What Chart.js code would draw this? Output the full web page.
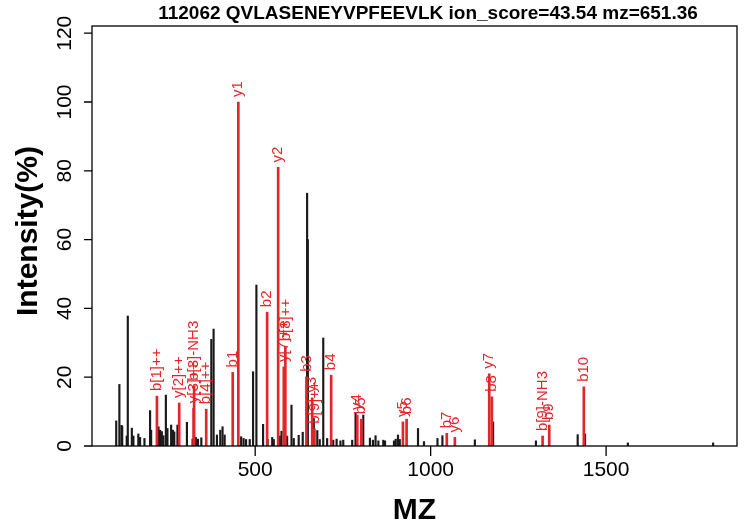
<!DOCTYPE html>
<html>
<head>
<meta charset="utf-8">
<script src="https://cdn.jsdelivr.net/npm/chart.js@4"></script>
<style>
  html, body { margin: 0; padding: 0; background: #fff; }
</style>
</head>
<body>
<canvas id="spectrum" width="745" height="530"></canvas>
<script>
const plotTitle = '112062 QVLASENEYVPFEEVLK ion_score=43.54 mz=651.36';
const xTitle = 'MZ';
const yTitle = 'Intensity(%)';
const xTicks = [500, 1000, 1500];
const yTicks = [0, 20, 40, 60, 80, 100, 120];

// unmatched peaks (black)
const peakMz = [104, 113, 119, 121, 134, 137, 148.5, 153, 167, 172,
  184.5, 200.5, 203.5, 224.5, 229, 234, 238.5, 245.5, 250, 260.5,
  265.5, 269.5, 278.5, 305.5, 321.5, 331, 337, 346.5, 375, 381.5,
  391, 400.5, 407, 413, 460, 467, 474, 484.5, 494, 503.5,
  522.5, 535.5, 548.5, 553, 570, 575, 591, 603.5, 610, 624,
  635.5, 648, 650, 667, 677, 684, 694, 705, 722.5, 732, 743,
  751, 776.5, 786, 808, 827, 835.5, 843, 851, 865, 870,
  895.5, 900.5, 907, 912, 964, 981, 1019.5, 1033.5, 1126, 1178,
  1300, 1419, 1440, 1562, 1805];
const peakInt = [7.3, 17.9, 6, 5.8, 2.9, 37.8, 5.2, 2.9, 3.5, 2.5,
  2.2, 10.3, 4.6, 5.6, 4.6, 4.2, 3, 14.8, 5.1, 6.1,
  4.6, 4.1, 6.1, 6.9, 2, 2.5, 2, 2.4, 31, 34,
  3.2, 4.6, 5.6, 3.2, 2.7, 2.2, 1.9, 1.9, 21.6, 46.8,
  6.3, 1.9, 2.5, 1.9, 2.9, 4.3, 2.9, 11.9, 2.2, 3.1,
  4, 73.5, 60, 8, 4.5, 1.9, 31.4, 2.2, 1.7, 2, 1.5,
  1.7, 1.7, 9.5, 9, 2.3, 1.7, 3, 1.5, 1.7, 1.5,
  1.5, 2, 3.2, 1.9, 5.1, 1.3, 2.2, 3, 1.8, 7,
  1.5, 3.3, 3.5, 0.9, 0.9];

// matched fragment ions (red)
const ionLabels = ['b[1]++', 'y[2]++', 'y[3]++', 'b[3]-NH3', 'b[4]++', 'b1', 'y1', 'b2', 'y2', 'y[7]++',
  'b[8]++', 'b3', 'y3', 'b[9]++', 'b4', 'y4', 'b5', 'y5', 'b6', 'b7',
  'y6', 'y7', 'b8', 'b[9]-NH3', 'b9', 'b10'];
const ionMz = [220, 283.5, 324.5, 326, 360.5, 436, 452, 534, 565.5, 581.5,
  586, 646, 662.5, 669, 716.5, 791, 802.5, 921, 931.5, 1046,
  1069, 1167, 1174.5, 1319, 1338, 1436.5];
const ionInt = [14.5, 12.5, 11, 17.5, 10.7, 21.4, 100, 38.9, 81, 23,
  29, 20.1, 14, 5, 20.6, 9, 7.8, 7, 7.8, 3.7,
  2.5, 21, 14.3, 2.9, 6.1, 17.2];

const RED = '#e3262b';
const FONT = '"Liberation Sans", Arial, Helvetica, sans-serif';

// R-style frame, ticks, labels and the ion annotations
const rStyle = {
  id: 'rStyle',
  afterDatasetsDraw(chart) {
    const ctx = chart.ctx;
    const a = chart.chartArea;
    const xs = chart.scales.x, ys = chart.scales.y;
    ctx.save();

    // ion labels, rotated, just above each red line
    ctx.fillStyle = RED;
    ctx.font = '15px ' + FONT;
    ctx.textAlign = 'left';
    ctx.textBaseline = 'middle';
    ionLabels.forEach((lab, i) => {
      const px = xs.getPixelForValue(ionMz[i]);
      const py = ys.getPixelForValue(ionInt[i]);
      ctx.save();
      ctx.translate(px, py - 5);
      ctx.rotate(-Math.PI / 2);
      ctx.fillText(lab, 0, 0);
      ctx.restore();
    });

    // box
    ctx.strokeStyle = '#000';
    ctx.lineWidth = 1.3;
    ctx.strokeRect(a.left, a.top, a.right - a.left, a.bottom - a.top);

    // x axis
    ctx.fillStyle = '#000';
    ctx.font = '21px ' + FONT;
    ctx.textAlign = 'center';
    ctx.textBaseline = 'top';
    ctx.beginPath();
    xTicks.forEach(v => {
      const px = xs.getPixelForValue(v);
      ctx.moveTo(px, a.bottom);
      ctx.lineTo(px, a.bottom + 10);
      ctx.fillText(String(v), px, a.bottom + 14);
    });
    ctx.stroke();

    // y axis
    ctx.beginPath();
    yTicks.forEach(v => {
      const py = ys.getPixelForValue(v);
      ctx.moveTo(a.left, py);
      ctx.lineTo(a.left - 8, py);
      ctx.save();
      ctx.translate(a.left - 16, py);
      ctx.rotate(-Math.PI / 2);
      ctx.textAlign = 'center';
      ctx.textBaseline = 'bottom';
      ctx.fillText(String(v), 0, 0);
      ctx.restore();
    });
    ctx.stroke();

    // titles
    ctx.font = 'bold 19px ' + FONT;
    ctx.textAlign = 'center';
    ctx.textBaseline = 'middle';
    ctx.fillText(plotTitle, 428, 14);
    ctx.font = 'bold 30px ' + FONT;
    ctx.fillText(xTitle, (a.left + a.right) / 2, 511);
    ctx.save();
    ctx.translate(29, 231);
    ctx.rotate(-Math.PI / 2);
    ctx.fillText(yTitle, 0, 0);
    ctx.restore();

    ctx.restore();
  }
};

new Chart(document.getElementById('spectrum'), {
  type: 'bar',
  data: {
    datasets: [
      {
        label: 'matched',
        data: ionMz.map((m, i) => ({ x: m, y: ionInt[i] })),
        backgroundColor: RED,
        barThickness: 2,
        grouped: false
      },
      {
        label: 'peaks',
        data: peakMz.map((m, i) => ({ x: m, y: peakInt[i] })),
        backgroundColor: '#1a1a1a',
        barThickness: 1.5,
        grouped: false
      }
    ]
  },
  options: {
    responsive: false,
    animation: false,
    layout: { padding: { left: 92, right: 8, top: 26, bottom: 84 } },
    plugins: { legend: { display: false }, tooltip: { enabled: false } },
    scales: {
      x: { type: 'linear', display: false, offset: false, min: 35, max: 1873 },
      y: { display: false, min: 0, max: 122.1 }
    }
  },
  plugins: [rStyle]
});
</script>
</body>
</html>
